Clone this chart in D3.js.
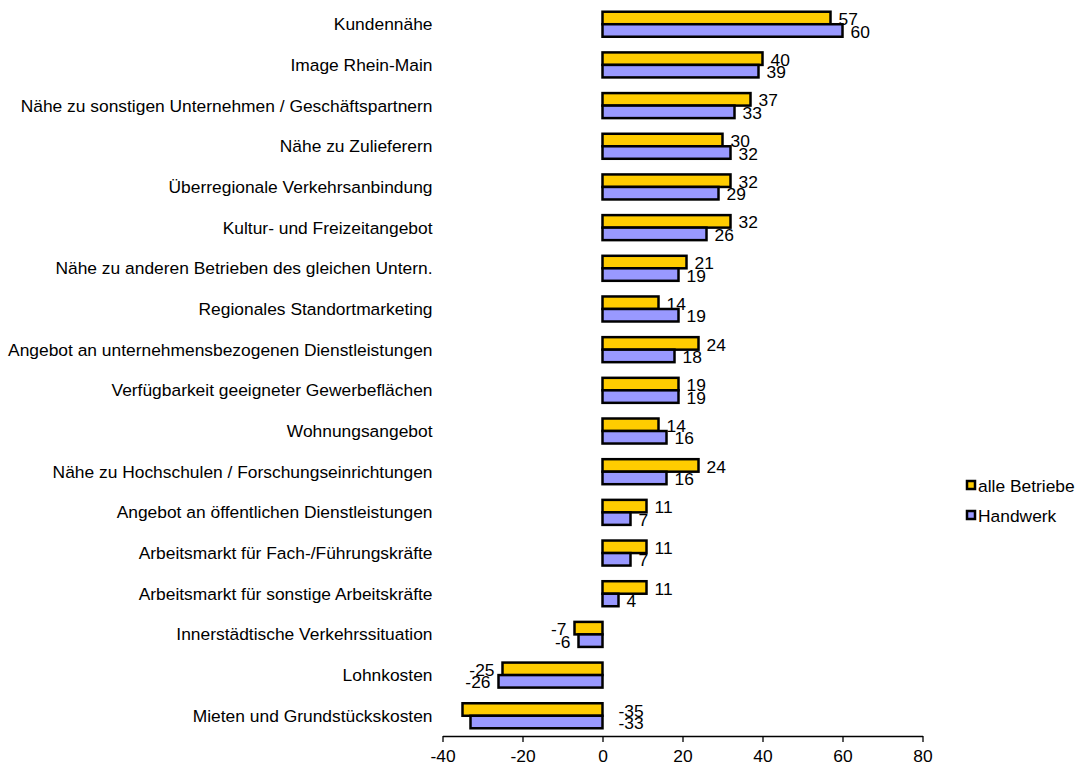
<!DOCTYPE html>
<html>
<head>
<meta charset="utf-8">
<script src="https://cdn.jsdelivr.net/npm/d3@7"></script>
<style>
  body { margin: 0; background: #fff; }
  svg { font-family: "Liberation Sans", Arial, sans-serif; }
</style>
</head>
<body>
<script>
// chart size
let width = 1084, height = 769

// categories, top to bottom
let categories = [
    "Kundennähe",
    "Image Rhein-Main",
    "Nähe zu sonstigen Unternehmen / Geschäftspartnern",
    "Nähe zu Zulieferern",
    "Überregionale Verkehrsanbindung",
    "Kultur- und Freizeitangebot",
    "Nähe zu anderen Betrieben des gleichen Untern.",
    "Regionales Standortmarketing",
    "Angebot an unternehmensbezogenen Dienstleistungen",
    "Verfügbarkeit geeigneter Gewerbeflächen",
    "Wohnungsangebot",
    "Nähe zu Hochschulen / Forschungseinrichtungen",
    "Angebot an öffentlichen Dienstleistungen",
    "Arbeitsmarkt für Fach-/Führungskräfte",
    "Arbeitsmarkt für sonstige Arbeitskräfte",
    "Innerstädtische Verkehrssituation",
    "Lohnkosten",
    "Mieten und Grundstückskosten"
]

// series values
let alleBetriebe = [57, 40, 37, 30, 32, 32, 21, 14, 24, 19, 14, 24, 11, 11, 11, -7, -25, -35]
let handwerk     = [60, 39, 33, 32, 29, 26, 19, 19, 18, 19, 16, 16, 7, 7, 4, -6, -26, -33]

let seriesNames = ["alle Betriebe", "Handwerk"]
let seriesColors = ["#FFCC00", "#9999FF"]

// axis ticks
let xTicks = [-40, -20, 0, 20, 40, 60, 80]

let fontSize = 17.4

// plot area
let plotTop = 4, plotBottom = 736
let x = d3.scaleLinear().domain([-40, 80]).range([442.5, 922.5])

let y = d3.scaleBand()
    .domain(categories)
    .range([plotTop, plotBottom])
    .paddingInner(0.385)
    .paddingOuter(0.19)

let ySub = d3.scaleBand()
    .domain(seriesNames)
    .range([0, y.bandwidth()])

let svg = d3.select("body")
    .append("svg")
    .attr("width", width)
    .attr("height", height)
    .attr("font-size", fontSize)

// rows of data, one per category
let rows = categories.map((c, i) => ({
    name: c,
    values: [
        { series: seriesNames[0], value: alleBetriebe[i], color: seriesColors[0] },
        { series: seriesNames[1], value: handwerk[i], color: seriesColors[1] }
    ]
}))

// category labels
svg.append("g")
    .selectAll("text")
    .data(categories)
    .join("text")
    .attr("x", x(-40) - 10)
    .attr("y", d => y(d) + y.bandwidth() / 2)
    .attr("dy", ".35em")
    .attr("text-anchor", "end")
    .attr("fill", "#000")
    .text(d => d)

let row = svg.append("g")
    .selectAll("g")
    .data(rows)
    .join("g")
    .attr("transform", d => `translate(0,${y(d.name)})`)

// bars
row.selectAll("rect")
    .data(d => d.values)
    .join("rect")
    .attr("x", d => x(Math.min(0, d.value)))
    .attr("y", d => ySub(d.series))
    .attr("width", d => Math.abs(x(d.value) - x(0)))
    .attr("height", ySub.bandwidth())
    .attr("fill", d => d.color)
    .attr("stroke", "#000")
    .attr("stroke-width", 2.5)

// value labels: outside the bar end; if a negative label would not fit in the plot, put it right of zero
function labelFits(d) {
    let w = String(d.value).length * 9.7
    return x(d.value) - 8 - w >= x(-40)
}
function labelX(d) {
    if (d.value >= 0) return x(d.value) + 8
    return labelFits(d) ? x(d.value) - 8 : x(0) + 16
}
function labelAnchor(d) {
    if (d.value >= 0) return "start"
    return labelFits(d) ? "end" : "start"
}

row.selectAll("text")
    .data(d => d.values)
    .join("text")
    .attr("x", labelX)
    .attr("y", d => ySub(d.series) + ySub.bandwidth() / 2 + 1)
    .attr("dy", ".35em")
    .attr("text-anchor", labelAnchor)
    .attr("fill", "#000")
    .text(d => d.value)

// x axis
let xAxis = svg.append("g")
    .attr("transform", `translate(0,${plotBottom})`)
    .call(d3.axisBottom(x)
        .tickValues(xTicks)
        .tickFormat(d => String(d))
        .tickSize(6)
        .tickSizeOuter(0)
        .tickPadding(8))

xAxis.selectAll("text")
    .attr("font-size", fontSize)
    .attr("font-family", "Liberation Sans, Arial, sans-serif")
    .attr("fill", "#000")
xAxis.selectAll("line, path").attr("stroke", "#000").attr("stroke-width", 1.3)

// legend
let legend = svg.append("g")
    .selectAll("g")
    .data(seriesNames)
    .join("g")
    .attr("transform", (d, i) => `translate(967,${486 + i * 30})`)

legend.append("rect")
    .attr("x", 0)
    .attr("y", -5)
    .attr("width", 8)
    .attr("height", 8)
    .attr("fill", (d, i) => seriesColors[i])
    .attr("stroke", "#000")
    .attr("stroke-width", 2.5)

legend.append("text")
    .attr("x", 11)
    .attr("y", 0)
    .attr("dy", ".35em")
    .attr("fill", "#000")
    .text(d => d)
</script>
</body>
</html>
